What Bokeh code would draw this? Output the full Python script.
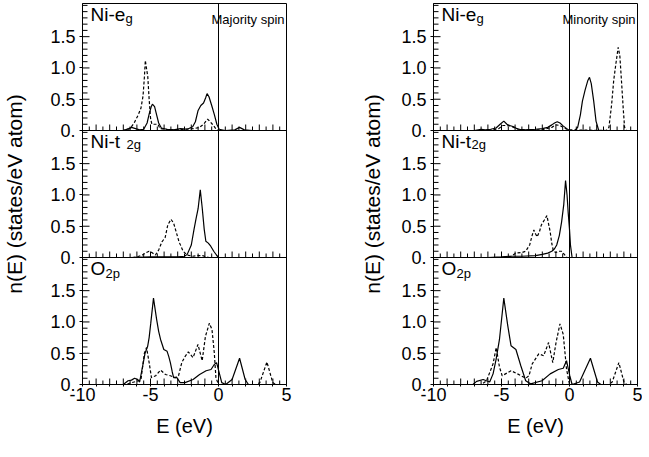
from bokeh.plotting import figure
from bokeh.models import Range1d, FixedTicker, Span, Label
from bokeh.layouts import row
from bokeh.embed import file_html
from bokeh.resources import INLINE

FONT = "Liberation Sans"

# ---------------- data ----------------
X_TICKS = list(range(-10, 6))
X_MINOR = [i * 0.5 for i in range(-20, 11)]
X_TICK_LABELS = {-10: "-10", -5: "-5", 0: "0", 5: "5"}
Y_TICKS = [0, 0.5, 1.0, 1.5]
Y_TICK_LABELS = ["0.", "0.5", "1.0", "1.5"]
Y_MINOR = [round(0.1 * i, 1) for i in range(1, 21)]

# Majority spin, Ni-eg
maj_eg_solid_e = [-10, -7.0, -6.6, -6.4, -6.1, -5.8, -5.5, -5.25, -5.1, -4.95, -4.86, -4.7, -4.55, -4.4, -4.2, -3.8, -3.3, -2.8, -2.3, -1.9, -1.7, -1.5, -1.3, -1.1, -0.95, -0.84, -0.7, -0.5, -0.3, -0.12, 0.05, 0.5, 1.2, 1.55, 1.9, 2.5, 5]
maj_eg_solid_n = [0, 0, 0.03, 0.05, 0.03, 0.01, 0.02, 0.12, 0.26, 0.38, 0.42, 0.38, 0.25, 0.12, 0.04, 0.02, 0.01, 0.03, 0.02, 0.06, 0.14, 0.32, 0.40, 0.44, 0.52, 0.59, 0.54, 0.40, 0.25, 0.10, 0.02, 0, 0.01, 0.05, 0.01, 0, 0]
maj_eg_dash_e = [-10, -7.0, -6.5, -6.2, -5.9, -5.7, -5.55, -5.45, -5.38, -5.3, -5.2, -5.1, -5.0, -4.9, -4.7, -4.45, -4.3, -3.5, -2.5, -1.8, -1.4, -1.1, -0.95, -0.8, -0.65, -0.45, -0.2, 0, 5]
maj_eg_dash_n = [0, 0, 0.03, 0.12, 0.25, 0.36, 0.55, 0.85, 1.12, 1.0, 0.86, 0.5, 0.2, 0.1, 0.1, 0.1, 0.03, 0.01, 0.02, 0.03, 0.05, 0.10, 0.14, 0.18, 0.15, 0.10, 0.03, 0, 0]

# Minority spin, Ni-eg
min_eg_solid_e = [-10, -7, -6.5, -6.2, -5.8, -5.4, -5.1, -4.83, -4.6, -4.4, -4.1, -3.8, -3.2, -2.5, -2.0, -1.6, -1.3, -1.1, -0.9, -0.7, -0.45, -0.2, 0, 0.4, 0.6, 0.8, 0.95, 1.15, 1.35, 1.47, 1.6, 1.78, 1.95, 2.15, 2.5, 5]
min_eg_solid_n = [0, 0, 0.02, 0.01, 0.02, 0.04, 0.10, 0.15, 0.10, 0.08, 0.06, 0.02, 0.01, 0.02, 0.03, 0.05, 0.09, 0.12, 0.14, 0.12, 0.07, 0.03, 0, 0, 0.05, 0.25, 0.47, 0.65, 0.80, 0.85, 0.75, 0.47, 0.15, 0, 0, 0]
min_eg_dash_e = [-10, -6, -5.2, -4.9, -4.6, -4.3, -4.0, -3.5, -2, -1.3, -1.0, -0.7, -0.4, -0.1, 2.7, 2.9, 3.1, 3.25, 3.4, 3.58, 3.7, 3.85, 3.95, 4.05, 4.2, 5]
min_eg_dash_n = [0, 0, 0.03, 0.08, 0.08, 0.07, 0.04, 0.01, 0.01, 0.05, 0.09, 0.08, 0.04, 0.01, 0, 0.05, 0.42, 0.80, 1.05, 1.33, 1.20, 0.70, 0.35, 0.05, 0, 0]

# Majority spin, Ni-t2g
maj_t2g_solid_e = [-10, -6.5, -5, -4, -3, -2.5, -2.3, -2.0, -1.8, -1.65, -1.5, -1.34, -1.2, -1.05, -0.93, -0.75, -0.57, -0.35, -0.15, 0, 5]
maj_t2g_solid_n = [0, 0, 0.01, 0.01, 0.01, 0.02, 0.05, 0.20, 0.45, 0.62, 0.78, 1.08, 0.80, 0.45, 0.26, 0.23, 0.18, 0.10, 0.04, 0, 0]
maj_t2g_dash_e = [-10, -6.3, -6.0, -5.6, -5.3, -5.1, -4.9, -4.64, -4.4, -4.16, -3.92, -3.73, -3.49, -3.3, -3.1, -2.9, -2.6, -2.3, -1.9, -1.5, -1.17, -0.9, -0.7, 5]
maj_t2g_dash_n = [0, 0, 0.01, 0.04, 0.08, 0.10, 0.08, 0.04, 0.12, 0.25, 0.32, 0.52, 0.61, 0.55, 0.40, 0.25, 0.10, 0.04, 0.02, 0.03, 0.03, 0.01, 0, 0]

# Minority spin, Ni-t2g
min_t2g_solid_e = [-10, -6, -5, -4.4, -3.5, -2.5, -2.0, -1.6, -1.3, -1.1, -0.94, -0.75, -0.58, -0.42, -0.29, -0.18, -0.1, 0.0, 0.07, 0.19, 5]
min_t2g_solid_n = [0, 0, 0.01, 0.02, 0.02, 0.03, 0.05, 0.07, 0.10, 0.14, 0.20, 0.35, 0.57, 0.85, 1.23, 1.00, 0.73, 0.45, 0.20, 0, 0]
min_t2g_dash_e = [-10, -5, -4.3, -3.94, -3.5, -3.22, -2.93, -2.75, -2.62, -2.5, -2.38, -2.2, -2.07, -1.85, -1.66, -1.55, -1.42, -1.3, -1.18, -1.0, -0.82, -0.6, -0.46, -0.2, 5]
min_t2g_dash_n = [0, 0, 0.02, 0.07, 0.08, 0.10, 0.20, 0.35, 0.44, 0.38, 0.33, 0.42, 0.52, 0.60, 0.67, 0.55, 0.41, 0.22, 0.10, 0.08, 0.10, 0.10, 0.07, 0, 0]

# Majority spin, O2p
maj_o2p_solid_e = [-10, -7.0, -6.65, -6.4, -6.17, -5.95, -5.8, -5.57, -5.4, -5.21, -5.1, -4.98, -4.78, -4.55, -4.4, -4.26, -4.02, -3.78, -3.66, -3.54, -3.4, -3.3, -3.06, -2.82, -2.46, -1.87, -1.39, -0.91, -0.55, -0.31, -0.14, 0.05, 0.24, 0.53, 1.0, 1.55, 1.96, 2.2, 5]
maj_o2p_solid_n = [0, 0, 0.06, 0.07, 0.10, 0.08, 0.04, 0.30, 0.50, 0.61, 0.75, 0.98, 1.38, 1.04, 0.85, 0.72, 0.56, 0.53, 0.45, 0.35, 0.20, 0.11, 0.11, 0.03, 0.03, 0.08, 0.16, 0.22, 0.24, 0.32, 0.35, 0.19, 0.03, 0, 0.08, 0.42, 0.08, 0, 0]
maj_o2p_dash_e = [-10, -6.8, -6.4, -6.0, -5.7, -5.45, -5.29, -5.1, -4.93, -4.62, -4.26, -3.9, -3.54, -3.18, -2.94, -2.7, -2.45, -2.22, -1.87, -1.51, -1.2, -0.96, -0.67, -0.48, -0.31, -0.19, 0, 2.8, 3.04, 3.56, 3.99, 4.2, 5]
maj_o2p_dash_n = [0, 0, 0.03, 0.05, 0.08, 0.50, 0.59, 0.35, 0.11, 0.14, 0.23, 0.16, 0.14, 0.11, 0.14, 0.35, 0.45, 0.52, 0.43, 0.64, 0.38, 0.77, 0.98, 0.88, 0.51, 0.11, 0, 0, 0.03, 0.36, 0.03, 0, 0]

# Minority spin, O2p
min_o2p_solid_e = [-10, -7.1, -6.83, -6.35, -5.87, -5.62, -5.39, -5.15, -4.83, -4.54, -4.3, -3.94, -3.58, -3.22, -2.86, -2.02, -1.42, -0.82, -0.46, -0.22, 0.02, 0.19, 0.74, 1.54, 2.06, 2.3, 5]
min_o2p_solid_n = [0, 0, 0.05, 0.08, 0.04, 0.17, 0.41, 0.72, 1.38, 0.94, 0.62, 0.56, 0.30, 0.06, 0.01, 0.06, 0.17, 0.24, 0.26, 0.38, 0.14, 0, 0.04, 0.42, 0.04, 0, 0]
min_o2p_dash_e = [-10, -6.5, -6.1, -5.62, -5.39, -5.15, -4.95, -4.3, -3.82, -3.22, -2.98, -2.74, -2.26, -1.9, -1.54, -1.23, -0.99, -0.7, -0.46, -0.22, 0, 2.9, 3.14, 3.63, 4.0, 4.2, 5]
min_o2p_dash_n = [0, 0, 0.06, 0.33, 0.59, 0.28, 0.14, 0.22, 0.17, 0.10, 0.14, 0.33, 0.49, 0.46, 0.67, 0.35, 0.67, 0.97, 0.80, 0.25, 0, 0, 0.04, 0.35, 0.04, 0, 0]

# ---------------- layout constants ----------------
X0, X1 = -10, 5
Y_TOP = 2.03            # height of one panel in data units
N_PANELS = 3
FRAME_W = 204
FRAME_H = 381           # 3 panels of 127 px
DX = (X1 - X0) / FRAME_W              # data units per pixel, x
DY = N_PANELS * Y_TOP / FRAME_H       # data units per pixel, y


def build(panels, spin, border_left, border_right, ylabel_standoff):
    """panels: list from top to bottom of (solid_e, solid_n, dash_e, dash_n, main, sub, sub_dx, sub_dy)"""
    p = figure(frame_width=FRAME_W, frame_height=FRAME_H,
               x_range=Range1d(X0, X1), y_range=Range1d(0, N_PANELS * Y_TOP),
               toolbar_location=None, output_backend="svg",
               min_border_left=border_left, min_border_right=border_right,
               min_border_top=3, min_border_bottom=57,
               background_fill_color="white", border_fill_color="white")
    p.xgrid.visible = False
    p.ygrid.visible = False
    p.outline_line_color = "black"
    p.outline_line_width = 1

    # ---- x axis (bottom panel) ----
    xa = p.xaxis[0]
    xa.ticker = FixedTicker(ticks=X_TICKS, minor_ticks=X_MINOR)
    xa.major_label_overrides = {t: X_TICK_LABELS.get(t, "") for t in X_TICKS}
    xa.axis_line_color = "black"
    xa.major_tick_in = 0
    xa.major_tick_out = 2
    xa.minor_tick_in = 0
    xa.minor_tick_out = 0
    xa.major_tick_line_color = "black"
    xa.major_label_standoff = 1
    xa.major_label_text_font = FONT
    xa.major_label_text_font_size = "18px"
    xa.major_label_text_color = "black"
    xa.axis_label = "E (eV)"
    xa.axis_label_text_font = FONT
    xa.axis_label_text_font_size = "20px"
    xa.axis_label_text_font_style = "normal"
    xa.axis_label_text_color = "black"
    xa.axis_label_standoff = 11

    # ---- y axis: same 0 .. 1.5 ticks repeated for each panel ----
    y_ticks, y_labels, y_minor = [], [], []
    for k in range(N_PANELS):
        base = k * Y_TOP
        for t, lab in zip(Y_TICKS, Y_TICK_LABELS):
            v = round(base + t, 4)
            y_ticks.append(v)
            y_labels.append(lab)
        for t in Y_MINOR:
            y_minor.append(round(base + t, 4))
    ya = p.yaxis[0]
    ya.ticker = FixedTicker(ticks=y_ticks, minor_ticks=y_minor)
    ya.major_label_overrides = dict(zip(y_ticks, y_labels))
    ya.axis_line_color = "black"
    ya.major_tick_line_color = "black"
    ya.major_tick_in = 0
    ya.major_tick_out = 3
    ya.minor_tick_in = 0
    ya.minor_tick_out = 0
    ya.major_label_standoff = 4
    ya.major_label_text_font = FONT
    ya.major_label_text_font_size = "18px"
    ya.major_label_text_color = "black"
    ya.axis_label = "n(E) (states/eV atom)"
    ya.axis_label_text_font = FONT
    ya.axis_label_text_font_size = "21px"
    ya.axis_label_text_font_style = "normal"
    ya.axis_label_text_color = "black"
    ya.axis_label_standoff = ylabel_standoff

    # ---- inward tick marks along each panel's baseline and the left edge ----
    sx0, sy0, sx1, sy1 = [], [], [], []
    for k in range(N_PANELS):
        base = k * Y_TOP
        for t in X_TICKS:
            sx0.append(t); sx1.append(t); sy0.append(base); sy1.append(base + 6 * DY)
        for t in X_MINOR:
            if t != int(t):
                sx0.append(t); sx1.append(t); sy0.append(base); sy1.append(base + 4 * DY)
        for t in Y_TICKS[1:]:
            sx0.append(X0); sx1.append(X0 + 7 * DX); sy0.append(base + t); sy1.append(base + t)
        for t in Y_MINOR:
            if t not in Y_TICKS:
                sx0.append(X0); sx1.append(X0 + 5 * DX); sy0.append(base + t); sy1.append(base + t)
    p.segment(sx0, sy0, sx1, sy1, line_color="black", line_width=1)

    # panel separators and Fermi level
    for k in range(1, N_PANELS):
        p.add_layout(Span(location=k * Y_TOP, dimension="width", line_color="black", line_width=1))
    p.add_layout(Span(location=0, dimension="height", line_color="black", line_width=1))

    for i, (se, sn, de, dn, main, sub, sub_dx, sub_dy) in enumerate(panels):
        base = (N_PANELS - 1 - i) * Y_TOP
        top = base + Y_TOP
        p.line(se, [v + base for v in sn], line_color="black", line_width=1.2)
        p.line(de, [v + base for v in dn], line_color="black", line_width=1.2, line_dash="3 2")
        p.add_layout(Label(x=X0, y=top - 0 * DY, x_offset=8, text=main, text_font=FONT,
                           text_font_size="19px", text_baseline="top", text_align="left",
                           text_color="black"))
        p.add_layout(Label(x=X0, y=top - sub_dy * DY, x_offset=8 + sub_dx, text=sub,
                           text_font=FONT, text_font_size="13px", text_baseline="top",
                           text_align="left", text_color="black"))

    p.add_layout(Label(x=X1, y=N_PANELS * Y_TOP - 8 * DY, x_offset=-2, text=spin, text_font=FONT,
                       text_font_size="13px", text_baseline="top", text_align="right",
                       text_color="black"))
    return p


left = build([
    (maj_eg_solid_e, maj_eg_solid_n, maj_eg_dash_e, maj_eg_dash_n, "Ni-e", "g", 35, 7),
    (maj_t2g_solid_e, maj_t2g_solid_n, maj_t2g_dash_e, maj_t2g_dash_n, "Ni-t", "2g", 36, 6),
    (maj_o2p_solid_e, maj_o2p_solid_n, maj_o2p_dash_e, maj_o2p_dash_n, "O", "2p", 15, 8),
], "Majority spin", 78, 72, 21)

right = build([
    (min_eg_solid_e, min_eg_solid_n, min_eg_dash_e, min_eg_dash_n, "Ni-e", "g", 35, 7),
    (min_t2g_solid_e, min_t2g_solid_n, min_t2g_dash_e, min_t2g_dash_n, "Ni-t", "2g", 30, 6),
    (min_o2p_solid_e, min_o2p_solid_n, min_o2p_dash_e, min_o2p_dash_n, "O", "2p", 15, 8),
], "Minority spin", 70, 5, 14)

layout = row(left, right)

open("out.html", "w").write(file_html(layout, INLINE))
